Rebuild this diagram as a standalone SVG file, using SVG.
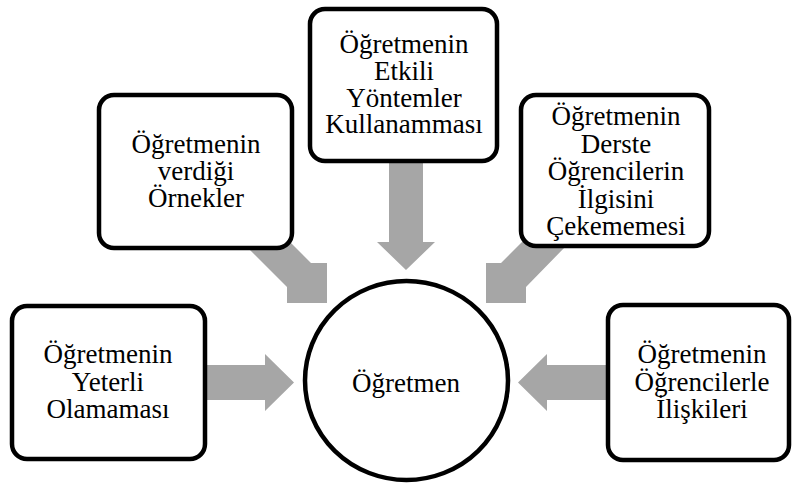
<svg xmlns="http://www.w3.org/2000/svg" width="792" height="489" viewBox="0 0 792 489">
  <style>
    .box { fill: #ffffff; stroke: #000000; stroke-width: 4.5; }
    .arrow { fill: #a6a6a6; stroke: none; }
    .label { font-size: 27px; fill: #000000; text-anchor: middle; }
  </style>
  <rect width="792" height="489" fill="#ffffff"/>

  <!-- block arrows pointing into the centre circle -->
  <g id="connectors">
    <!-- top box to centre -->
    <polygon class="arrow" points="389,155 423,155 423,242 435,242 406,270 377,242 389,242"/>
    <!-- left box to centre -->
    <polygon class="arrow" points="200,365 265,365 265,354 294,382.5 265,411 265,400 200,400"/>
    <!-- right box to centre -->
    <polygon class="arrow" points="612,365 547,365 547,354 518,382.5 547,411 547,400 612,400"/>
    <!-- upper-left box to centre -->
    <polygon class="arrow" points="247,199 283,235 311,263 327,263 327,303 287,303 287,287 247,247 223,223"/>
    <!-- upper-right box to centre -->
    <polygon class="arrow" points="565,199 529,235 501,263 486,263 486,303 526,303 526,287 565,247 589,223"/>
  </g>

  <g font-family="'Liberation Serif', 'Times New Roman', 'DejaVu Serif', serif">
    <g id="node-center">
      <ellipse class="box" cx="406.5" cy="380.5" rx="101.5" ry="99.5"/>
      <text class="label" x="406" y="392">Öğretmen</text>
    </g>

    <g id="node-left">
      <rect class="box" x="12" y="306" width="193" height="153" rx="15"/>
      <text class="label"><tspan x="108" y="363">Öğretmenin</tspan><tspan x="108" y="391">Yeterli</tspan><tspan x="108" y="418">Olamaması</tspan></text>
    </g>

    <g id="node-upper-left">
      <rect class="box" x="99" y="95" width="193" height="153" rx="15"/>
      <text class="label"><tspan x="196" y="153">Öğretmenin</tspan><tspan x="196" y="180">verdiği</tspan><tspan x="196" y="207">Örnekler</tspan></text>
    </g>

    <g id="node-top">
      <rect class="box" x="310" y="9" width="187" height="152" rx="15"/>
      <text class="label"><tspan x="404" y="53">Öğretmenin</tspan><tspan x="404" y="80">Etkili</tspan><tspan x="404" y="107">Yöntemler</tspan><tspan x="404" y="133">Kullanamması</tspan></text>
    </g>

    <g id="node-upper-right">
      <rect class="box" x="521" y="95" width="188" height="151" rx="15"/>
      <text class="label"><tspan x="616" y="125">Öğretmenin</tspan><tspan x="616" y="153">Derste</tspan><tspan x="616" y="180">Öğrencilerin</tspan><tspan x="616" y="208">İlgisini</tspan><tspan x="616" y="235">Çekememesi</tspan></text>
    </g>

    <g id="node-right">
      <rect class="box" x="608" y="305" width="181" height="155" rx="15"/>
      <text class="label"><tspan x="702" y="363">Öğretmenin</tspan><tspan x="702" y="391">Öğrencilerle</tspan><tspan x="702" y="418">İlişkileri</tspan></text>
    </g>
  </g>
</svg>
